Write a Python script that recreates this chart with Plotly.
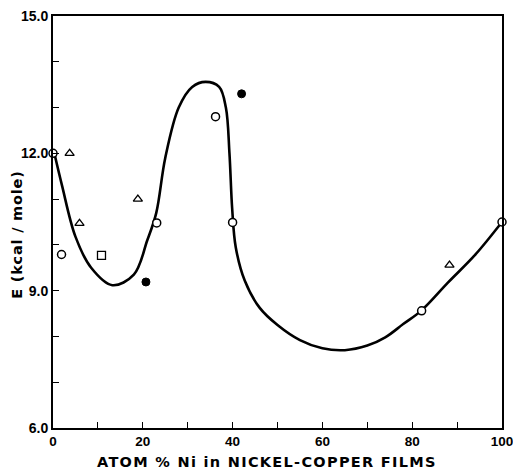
import plotly.graph_objects as go

# Data
open_circle_x = [0.0, 1.9, 23.1, 36.2, 40.0, 82.1, 100.0]
open_circle_y = [12.0, 9.79, 10.48, 12.8, 10.49, 8.56, 10.5]
filled_circle_x = [20.7, 42.0]
filled_circle_y = [9.19, 13.3]
triangle_x = [3.7, 5.9, 18.9, 88.3]
triangle_y = [12.0, 10.47, 11.0, 9.56]
square_x = [10.8]
square_y = [9.77]

curve_x = [0.3, 2.0, 5.0, 8.5, 13.2, 18.0, 21.0, 23.0, 25.0, 28.0, 31.0, 34.0, 37.0,
           38.5, 39.3, 39.9, 40.7, 42.7, 46.0, 50.0, 55.0, 60.0, 65.0, 70.0, 74.0,
           78.0, 82.1, 88.0, 94.0, 100.0]
curve_y = [12.0, 11.3, 10.18, 9.5, 9.12, 9.35, 10.1, 10.7, 11.9, 13.0, 13.45, 13.56, 13.45,
           13.0, 12.0, 10.8, 9.95, 9.22, 8.63, 8.25, 7.92, 7.74, 7.70, 7.8, 7.98,
           8.27, 8.57, 9.18, 9.78, 10.5]

x_tickvals = [0, 20, 40, 60, 80, 100]
y_tickvals = [6, 9, 12, 15]
y_ticktext = ["6.0", "9.0", "12.0", "15.0"]
x_title = "ATOM % Ni in NICKEL-COPPER FILMS"
y_title = "E (kcal / mole)"

FONT = "DejaVu Sans"
TICKFONT = "Liberation Sans"

fig = go.Figure()
fig.add_trace(go.Scatter(x=curve_x, y=curve_y, mode="lines",
                         line=dict(color="black", width=2.6, shape="spline", smoothing=1.0),
                         hoverinfo="skip", showlegend=False))
fig.add_trace(go.Scatter(x=open_circle_x, y=open_circle_y, mode="markers", cliponaxis=False,
                         marker=dict(symbol="circle", size=8, color="white",
                                     line=dict(color="black", width=1.5)), showlegend=False))
fig.add_trace(go.Scatter(x=filled_circle_x, y=filled_circle_y, mode="markers", cliponaxis=False,
                         marker=dict(symbol="circle", size=8, color="black",
                                     line=dict(color="black", width=1)), showlegend=False))
fig.add_trace(go.Scatter(x=triangle_x, y=triangle_y, mode="markers", cliponaxis=False,
                         marker=dict(symbol="triangle-up-open", size=8, color="black",
                                     line=dict(color="black", width=1.3)), showlegend=False))
fig.add_trace(go.Scatter(x=square_x, y=square_y, mode="markers", cliponaxis=False,
                         marker=dict(symbol="square-open", size=8, color="black",
                                     line=dict(color="black", width=1.3)), showlegend=False))

fig.update_layout(
    width=513, height=472,
    margin=dict(l=52.5, r=11, t=16, b=44),
    paper_bgcolor="white", plot_bgcolor="white",
    font=dict(family=FONT, color="black", size=13),
    xaxis=dict(range=[0, 100], tickvals=x_tickvals, ticks="inside", ticklen=6,
               tickwidth=1.3, tickcolor="black", showline=True, linecolor="black",
               linewidth=2, mirror=True, showgrid=False, zeroline=False,
               ticklabeloverflow="allow", automargin=False,
               tickfont=dict(family=TICKFONT, size=13.5, weight="bold"),
               minor=dict(dtick=10, ticks="inside", ticklen=6, tickwidth=1.3,
                          tickcolor="black", showgrid=False)),
    yaxis=dict(range=[6, 15], tickvals=y_tickvals, ticktext=y_ticktext, ticks="inside",
               ticklen=6, tickwidth=1.3, tickcolor="black", showline=True,
               linecolor="black", linewidth=2, mirror=True, showgrid=False,
               zeroline=False, automargin=False,
               tickfont=dict(family=TICKFONT, size=14, weight="bold"),
               minor=dict(dtick=1, ticks="inside", ticklen=6, tickwidth=1.3,
                          tickcolor="black", showgrid=False)),
    annotations=[
        dict(text='<span style="letter-spacing:1.3px">' + x_title + '</span>',
             xref="paper", yref="paper", x=0.477, y=-0.083, showarrow=False,
             xanchor="center", yanchor="middle", borderpad=0,
             font=dict(family=FONT, size=14.5, weight="bold")),
        dict(text='<span style="letter-spacing:0.8px">' + y_title + '</span>',
             xref="paper", yref="paper", x=-0.080, y=0.469, textangle=-90,
             showarrow=False, xanchor="center", yanchor="middle",
             font=dict(family=FONT, size=14.5, weight="bold")),
    ],
)

fig.write_html("out.html")
